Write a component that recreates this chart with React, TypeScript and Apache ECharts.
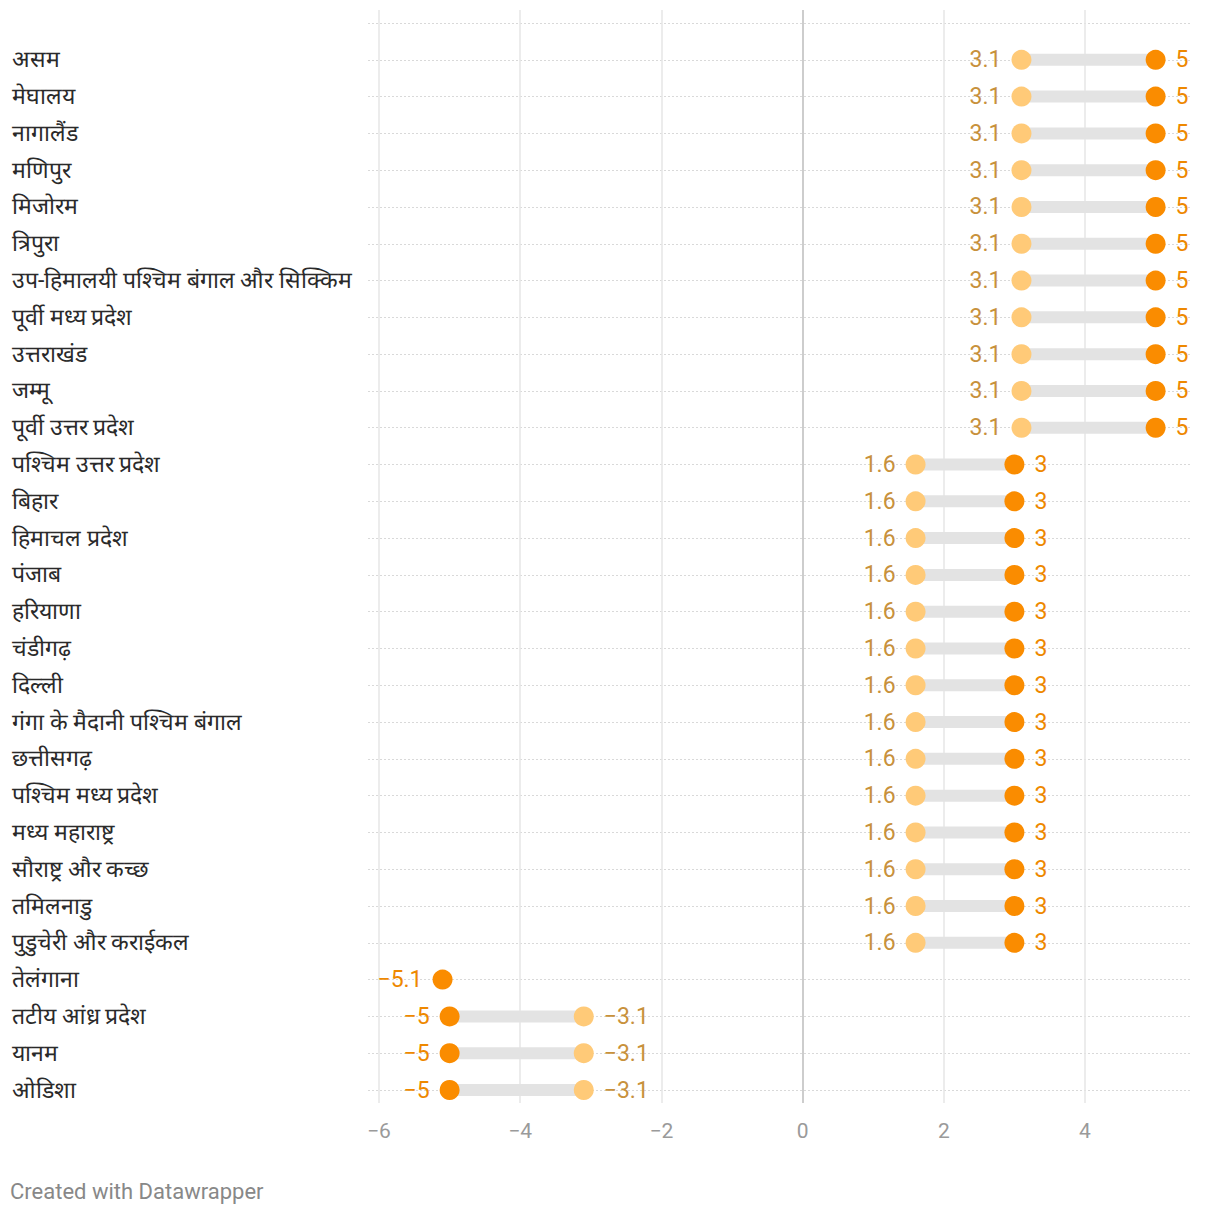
import React, { useEffect, useRef } from "react";
import * as echarts from "echarts";

const categories: string[] = [
  "असम",
  "मेघालय",
  "नागालैंड",
  "मणिपुर",
  "मिजोरम",
  "त्रिपुरा",
  "उप-हिमालयी पश्चिम बंगाल और सिक्किम",
  "पूर्वी मध्य प्रदेश",
  "उत्तराखंड",
  "जम्मू",
  "पूर्वी उत्तर प्रदेश",
  "पश्चिम उत्तर प्रदेश",
  "बिहार",
  "हिमाचल प्रदेश",
  "पंजाब",
  "हरियाणा",
  "चंडीगढ़",
  "दिल्ली",
  "गंगा के मैदानी पश्चिम बंगाल",
  "छत्तीसगढ़",
  "पश्चिम मध्य प्रदेश",
  "मध्य महाराष्ट्र",
  "सौराष्ट्र और कच्छ",
  "तमिलनाडु",
  "पुडुचेरी और कराईकल",
  "तेलंगाना",
  "तटीय आंध्र प्रदेश",
  "यानम",
  "ओडिशा",
];

const lightValues: (number | null)[] = [
  3.1, 3.1, 3.1, 3.1, 3.1, 3.1, 3.1, 3.1, 3.1, 3.1, 3.1,
  1.6, 1.6, 1.6, 1.6, 1.6, 1.6, 1.6, 1.6, 1.6, 1.6, 1.6, 1.6, 1.6, 1.6,
  null, -3.1, -3.1, -3.1,
];

const darkValues: number[] = [
  5, 5, 5, 5, 5, 5, 5, 5, 5, 5, 5,
  3, 3, 3, 3, 3, 3, 3, 3, 3, 3, 3, 3, 3, 3,
  -5.1, -5, -5, -5,
];

const xTicks: number[] = [-6, -4, -2, 0, 2, 4];

const fmt = (v: number) => String(v).replace("-", "\u2212");

const LIGHT = "#ffca78";
const DARK = "#fa8c00";
const LIGHT_TEXT = "#c8913c";
const DARK_TEXT = "#ee8800";

export default function App() {
  const ref = useRef<HTMLDivElement>(null);

  useEffect(() => {
    if (!ref.current) return;
    const chart = echarts.init(ref.current, null, { renderer: "svg" });

    const rangeData = categories.map((_, i) => [
      lightValues[i] == null ? darkValues[i] : lightValues[i],
      darkValues[i],
      i,
    ]);

    const lightData: any[] = [];
    const darkData: any[] = [];
    categories.forEach((_, i) => {
      const l = lightValues[i];
      const d = darkValues[i];
      const darkRight = l == null ? d >= 0 : d >= l;
      if (l != null) {
        lightData.push({
          value: [l, i],
          label: { position: darkRight ? "left" : "right" },
        });
      }
      darkData.push({
        value: [d, i],
        label: { position: darkRight ? "right" : "left" },
      });
    });

    const gridColors = xTicks.map((t) => (t === 0 ? "#bdbdbd" : "#e6e6e6"));

    chart.setOption({
      animation: false,
      backgroundColor: "#ffffff",
      textStyle: { fontFamily: "Roboto, sans-serif" },
      grid: [
        { left: 368, right: 30, top: 23, bottom: 128, containLabel: false },
        { left: 379, right: 135, top: 10, bottom: 115, containLabel: false },
      ],
      xAxis: [
        {
          gridIndex: 0,
          type: "value",
          min: -6.156,
          max: 5.487,
          show: false,
        },
        {
          gridIndex: 1,
          type: "value",
          min: -6,
          max: 4,
          interval: 2,
          axisLine: { show: false },
          axisTick: { show: false },
          axisLabel: {
            color: "#9a9a9a",
            fontSize: 21,
            margin: 17,
            fontFamily: "Roboto, sans-serif",
            formatter: (v: number) => fmt(v),
          },
          splitLine: {
            show: true,
            lineStyle: { color: gridColors, width: 1.5 },
          },
        },
      ],
      yAxis: [
        {
          gridIndex: 0,
          type: "value",
          inverse: true,
          min: -1,
          max: 28,
          interval: 1,
          axisLine: { show: false },
          axisTick: { show: false },
          axisLabel: {
            align: "left",
            margin: 356,
            fontSize: 23,
            color: "#2a2a2a",
            fontWeight: "normal",
            fontFamily: "Roboto, sans-serif",
            padding: [2, 0, 0, 0],
            formatter: (v: number) => (v >= 0 && categories[v] ? categories[v] : ""),
          },
          splitLine: {
            show: true,
            lineStyle: { color: "#d9d9d9", type: [2, 2], width: 1 },
          },
        },
        {
          gridIndex: 1,
          type: "value",
          show: false,
        },
      ],
      series: [
        {
          type: "custom",
          xAxisIndex: 0,
          yAxisIndex: 0,
          data: rangeData,
          renderItem: (params: any, api: any) => {
            const p1 = api.coord([api.value(0), api.value(2)]);
            const p2 = api.coord([api.value(1), api.value(2)]);
            const x0 = Math.min(p1[0], p2[0]);
            const w = Math.abs(p2[0] - p1[0]);
            return {
              type: "rect",
              shape: { x: x0, y: p1[1] - 6, width: w, height: 12 },
              style: { fill: "#e3e3e3" },
            };
          },
          z: 2,
        },
        {
          type: "scatter",
          xAxisIndex: 0,
          yAxisIndex: 0,
          data: lightData,
          symbol: "circle",
          symbolSize: 20,
          itemStyle: { color: LIGHT, opacity: 1 },
          label: {
            show: true,
            distance: 10,
            color: LIGHT_TEXT,
            fontSize: 23,
            fontFamily: "Roboto, sans-serif",
            formatter: (p: any) => fmt(p.value[0]),
          },
          z: 3,
        },
        {
          type: "scatter",
          xAxisIndex: 0,
          yAxisIndex: 0,
          data: darkData,
          symbol: "circle",
          symbolSize: 20,
          itemStyle: { color: DARK, opacity: 1 },
          label: {
            show: true,
            distance: 10,
            color: DARK_TEXT,
            fontSize: 23,
            fontFamily: "Roboto, sans-serif",
            formatter: (p: any) => fmt(p.value[0]),
          },
          z: 4,
        },
      ],
      graphic: [
        {
          type: "text",
          left: 10,
          top: 1180,
          style: {
            text: "Created with Datawrapper",
            fill: "#888888",
            fontSize: 22,
            fontFamily: "Roboto, sans-serif",
          },
        },
      ],
    });

    return () => chart.dispose();
  }, []);

  return (
    <div
      ref={ref}
      style={{ position: "fixed", left: 0, top: 0, width: 1220, height: 1218 }}
    />
  );
}
